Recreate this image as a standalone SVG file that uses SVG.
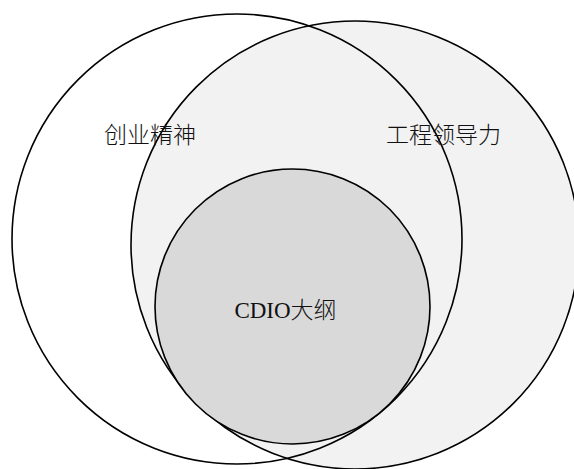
<svg xmlns="http://www.w3.org/2000/svg" width="574" height="469" viewBox="0 0 574 469">
<style>
.c{stroke:#000;stroke-width:1.6}
.t{font-family:"Liberation Serif","Noto Sans CJK SC",serif;font-size:23px;fill:#111;font-weight:300}
</style>
<rect width="574" height="469" fill="#fff"/>
<g id="engineering-leadership">
<circle class="c" cx="355" cy="245" r="224" fill="#f2f2f2"/>
</g>
<g id="entrepreneurship">
<circle class="c" cx="237" cy="239" r="225" fill="none"/>
</g>
<g id="cdio">
<circle class="c" cx="292.5" cy="306.5" r="137.5" fill="#d9d9d9"/>
</g>
<g id="labels">
<text class="t" x="104" y="143">创业精神</text>
<text class="t" x="386" y="143">工程领导力</text>
<text class="t" x="285.5" y="318" text-anchor="middle" font-size="24">CDIO大纲</text>
</g>
</svg>
